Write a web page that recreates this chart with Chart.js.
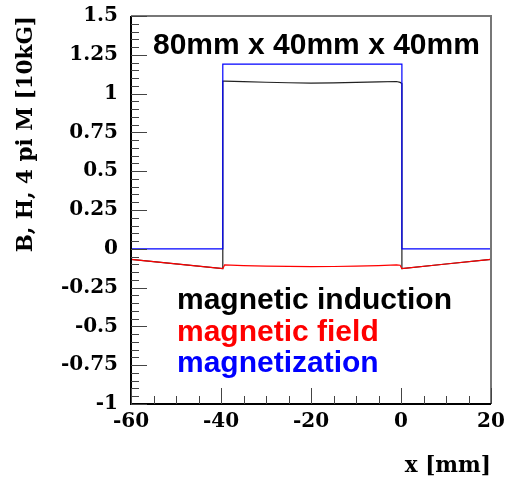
<!DOCTYPE html>
<html>
<head>
<meta charset="utf-8">
<script src="https://cdn.jsdelivr.net/npm/chart.js@4.4.0/dist/chart.umd.min.js"></script>
<style>
  html, body { margin: 0; padding: 0; background: #fff; }
  canvas { display: block; }
</style>
</head>
<body>
<canvas id="bhm" width="506" height="480"></canvas>
<script>
// positions along the magnet [mm] (edges doubled for the vertical jumps)
const xPos = [-60, -39.6, -39.6, -39.2, -35, -30, -25, -20, -15, -10, -5, -1, -0.2, 0.2, 0.2, 10, 20];
// B, H and 4 pi M in 10 kG
const induction = [-0.068, -0.128, 1.08, 1.08, 1.077, 1.073, 1.07, 1.068, 1.069, 1.072, 1.076, 1.078, 1.072, 1.065, -0.128, -0.098, -0.068];
const field = [-0.068, -0.128, -0.128, -0.104, -0.108, -0.111, -0.113, -0.115, -0.114, -0.112, -0.108, -0.104, -0.106, -0.128, -0.128, -0.098, -0.068];
const magnetization = [0, 0, 1.19, 1.19, 1.19, 1.19, 1.19, 1.19, 1.19, 1.19, 1.19, 1.19, 1.19, 1.19, 0, 0, 0];

const xTicks = [-60, -40, -20, 0, 20];
const yTicks = [-1, -0.75, -0.5, -0.25, 0, 0.25, 0.5, 0.75, 1, 1.25, 1.5];
const legendItems = ["magnetic induction", "magnetic field", "magnetization"];
const legendColors = ["#000000", "#ff0000", "#0000ff"];
const boxTitle = "80mm x 40mm x 40mm";

function pts(ys) {
  return xPos.map((x, i) => ({ x: x, y: ys[i] }));
}

// keep the plot frame where we want it, no auto padding for overhanging labels
function noPad(s) {
  s.paddingLeft = 0;
  s.paddingRight = 0;
  s.paddingTop = 0;
  s.paddingBottom = 0;
}

const serif = { family: "'DejaVu Serif', serif", weight: "bold", size: 20 };
const serifTitle = { family: "'DejaVu Serif', serif", weight: "bold", size: 21.5 };

// ROOT-like frame, inner tick marks, title and legend text
const rootStyle = {
  id: "rootStyle",
  afterDraw(chart) {
    const ctx = chart.ctx;
    const a = chart.chartArea;
    const xs = chart.scales.x, ys = chart.scales.y;
    ctx.save();

    // frame
    ctx.strokeStyle = "#777";
    ctx.lineWidth = 2;
    ctx.beginPath();
    ctx.moveTo(a.left, a.top);
    ctx.lineTo(a.right, a.top);
    ctx.lineTo(a.right, a.bottom);
    ctx.stroke();
    ctx.strokeStyle = "#000";
    ctx.beginPath();
    ctx.moveTo(a.left, a.top);
    ctx.lineTo(a.left, a.bottom);
    ctx.lineTo(a.right, a.bottom);
    ctx.stroke();

    // ticks (major every label, minor in between)
    ctx.strokeStyle = "#444";
    ctx.lineWidth = 1;
    ctx.beginPath();
    for (let v = -60; v <= 20.001; v += 5) {
      const px = Math.round(xs.getPixelForValue(v)) + 0.5;
      const len = Math.abs(v % 20) < 0.001 ? 16 : 8;
      ctx.moveTo(px, a.bottom);
      ctx.lineTo(px, a.bottom - len);
    }
    for (let k = 0; k <= 50; k++) {
      const v = -1 + k * 0.05;
      const py = Math.round(ys.getPixelForValue(v)) + 0.5;
      const len = k % 5 === 0 ? 16 : 8;
      ctx.moveTo(a.left, py);
      ctx.lineTo(a.left + len, py);
    }
    ctx.stroke();

    // title inside the frame
    ctx.fillStyle = "#000";
    ctx.font = "bold 30px 'Liberation Sans', Arial, sans-serif";
    ctx.textBaseline = "alphabetic";
    ctx.textAlign = "left";
    ctx.fillText(boxTitle, 153, 54);

    // legend text
    ctx.font = "bold 30px 'Liberation Sans', Arial, sans-serif";
    legendItems.forEach((t, i) => {
      ctx.fillStyle = legendColors[i];
      ctx.fillText(t, 177, 309 + i * 31.5);
    });
    ctx.restore();
  }
};

new Chart(document.getElementById("bhm"), {
  type: "scatter",
  data: {
    datasets: [
      {
        label: "magnetization",
        data: pts(magnetization),
        showLine: true,
        borderColor: "#0000ff",
        borderWidth: 1.2,
        pointRadius: 0,
        order: 0
      },
      {
        label: "magnetic field",
        data: pts(field),
        showLine: true,
        borderColor: "#ff0000",
        borderWidth: 1.2,
        pointRadius: 0,
        order: 1
      },
      {
        label: "magnetic induction",
        data: pts(induction),
        showLine: true,
        borderColor: "#222222",
        borderWidth: 1.2,
        pointRadius: 0,
        order: 2
      }
    ]
  },
  options: {
    responsive: false,
    animation: false,
    layout: { padding: { left: 0, right: 15, top: 16, bottom: 0 } },
    plugins: {
      legend: { display: false },
      tooltip: { enabled: false }
    },
    scales: {
      x: {
        type: "linear",
        min: -60,
        max: 20,
        afterBuildTicks: (s) => { s.ticks = xTicks.map((v) => ({ value: v })); },
        afterFit: (s) => { s.height = 76; noPad(s); },
        grid: { display: false, drawTicks: false },
        border: { display: false },
        ticks: {
          color: "#000",
          font: serif,
          padding: 6,
          maxRotation: 0,
          callback: (v) => String(v)
        },
        title: {
          display: true,
          text: "x [mm]",
          align: "end",
          color: "#000",
          font: serifTitle,
          padding: { top: 0, bottom: 1 }
        }
      },
      y: {
        type: "linear",
        min: -1,
        max: 1.5,
        afterBuildTicks: (s) => { s.ticks = yTicks.map((v) => ({ value: v })); },
        afterFit: (s) => { s.width = 131; noPad(s); },
        grid: { display: false, drawTicks: false },
        border: { display: false },
        ticks: {
          color: "#000",
          font: serif,
          padding: 13,
          callback: (v) => String(parseFloat(v.toFixed(2)))
        },
        title: {
          display: true,
          text: "B, H, 4 pi M [10kG]",
          align: "end",
          color: "#000",
          font: serifTitle,
          padding: { top: 14, bottom: 0 }
        }
      }
    }
  },
  plugins: [rootStyle]
});
</script>
</body>
</html>
